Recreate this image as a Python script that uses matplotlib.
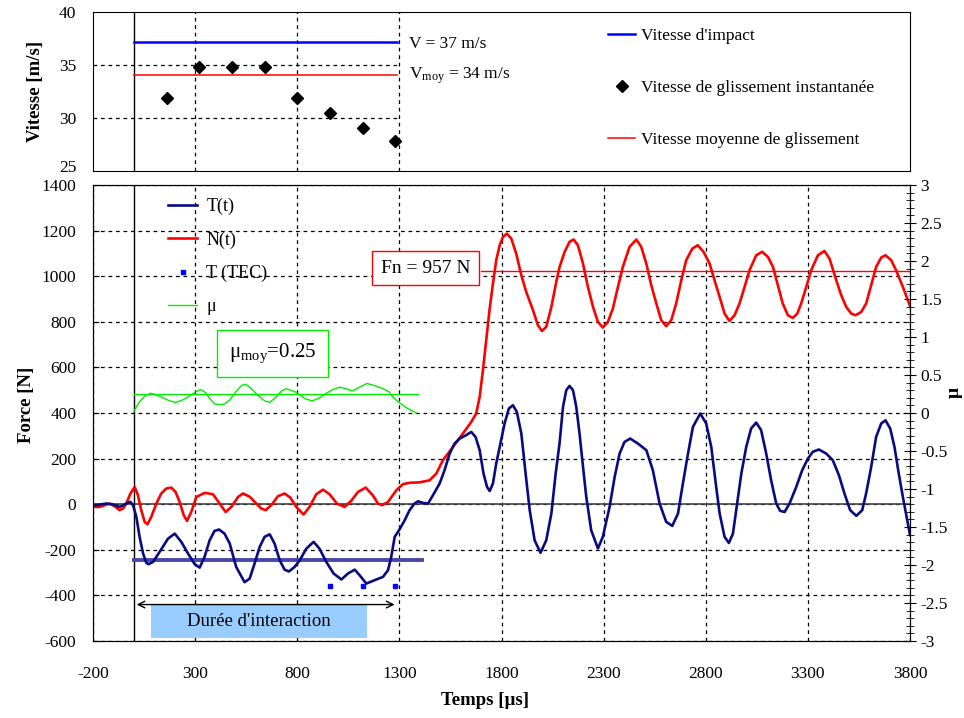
import matplotlib
matplotlib.use("Agg")
import matplotlib.pyplot as plt
from matplotlib.patches import Rectangle
from matplotlib.ticker import MultipleLocator, FuncFormatter
from matplotlib.transforms import ScaledTranslation

plt.rcParams["font.family"] = ["Liberation Serif", "DejaVu Serif"]
plt.rcParams["mathtext.fontset"] = "custom"
plt.rcParams["mathtext.rm"] = "Liberation Serif"
plt.rcParams["mathtext.it"] = "Liberation Serif:italic"
plt.rcParams["axes.unicode_minus"] = False

# top panel: sliding speed
slide_t = [160, 320, 480, 640, 800, 960, 1120, 1280]
slide_v = [31.9, 34.8, 34.8, 34.8, 31.9, 30.5, 29.1, 27.8]
v_impact = 37.15
v_moy = 34.1

# bottom panel: tangential force T(t) [us, N]
T_t = [-200, -184, -135, -102, -70, -37, -17, -4, 12, 28, 45, 61, 72, 94, 126, 167,
       200, 232, 265, 298, 322, 346, 371, 395, 417, 444, 469, 501, 542, 567, 591, 616,
       640, 665, 689, 714, 738, 759, 787, 812, 844, 880, 909, 942, 978, 1016, 1048, 1081,
       1105, 1138, 1179, 1219, 1244, 1260, 1277, 1301, 1326, 1350, 1374, 1391, 1415, 1440,
       1464, 1497, 1521, 1546, 1570, 1595, 1627, 1652, 1673, 1693, 1712, 1729, 1742, 1758,
       1774, 1791, 1815, 1836, 1856, 1875, 1897, 1918, 1938, 1962, 1991, 2019, 2044, 2065,
       2084, 2101, 2117, 2133, 2150, 2166, 2182, 2199, 2215, 2239, 2272, 2296, 2329, 2354,
       2378, 2402, 2430, 2468, 2509, 2541, 2574, 2606, 2636, 2664, 2688, 2713, 2737, 2773,
       2802, 2827, 2851, 2868, 2892, 2913, 2933, 2949, 2974, 2998, 3022, 3047, 3071, 3096,
       3120, 3145, 3164, 3186, 3210, 3243, 3272, 3300, 3324, 3354, 3390, 3422, 3452, 3479,
       3507, 3537, 3566, 3585, 3610, 3634, 3659, 3680, 3703, 3724, 3745, 3765, 3800]
T_f = [-4, -4, 3, -1, -12, 3, 10, -4, -55, -143, -216, -257, -263, -253, -209, -151,
       -129, -165, -216, -263, -278, -231, -158, -117, -111, -129, -172, -275, -342, -326, -260, -187,
       -143, -132, -173, -246, -287, -295, -275, -246, -195, -165, -195, -253, -304, -330, -304, -287,
       -311, -348, -333, -319, -290, -231, -143, -110, -70, -26, 3, 13, 6, 3,
       39, 91, 149, 222, 266, 288, 303, 317, 295, 237, 134, 76, 58, 91,
       178, 251, 354, 420, 434, 405, 310, 134, -26, -158, -213, -158, -41, 134,
       266, 427, 500, 519, 500, 427, 310, 164, 32, -114, -194, -143, -12, 120,
       222, 273, 288, 266, 237, 149, 3, -77, -95, -41, 91, 222, 339, 398,
       354, 251, 76, -41, -143, -170, -129, -26, 134, 251, 332, 358, 325, 222,
       105, 3, -29, -34, 3, 76, 149, 200, 230, 240, 222, 193, 127, 47,
       -26, -51, -26, 47, 164, 295, 354, 368, 332, 251, 134, 32, -135]

# normal force N(t) [us, N]
N_t = [-200, -192, -167, -143, -118, -94, -70, -53, -37, -17, 4, 20, 36, 53, 66, 85,
       110, 134, 159, 183, 204, 224, 244, 260, 281, 306, 347, 387, 420, 449, 477, 510,
       534, 567, 599, 624, 645, 673, 705, 738, 766, 795, 831, 860, 893, 926, 958, 994,
       1032, 1064, 1097, 1135, 1170, 1195, 1216, 1244, 1285, 1317, 1350, 1399, 1448, 1481,
       1513, 1562, 1611, 1652, 1676, 1693, 1709, 1725, 1742, 1758, 1774, 1791, 1807, 1826,
       1848, 1872, 1897, 1921, 1954, 1978, 1998, 2019, 2044, 2068, 2084, 2109, 2133, 2153,
       2174, 2199, 2223, 2248, 2272, 2296, 2321, 2345, 2370, 2394, 2427, 2460, 2484, 2509,
       2533, 2558, 2582, 2606, 2631, 2655, 2680, 2704, 2734, 2761, 2789, 2819, 2843, 2868,
       2892, 2916, 2941, 2965, 2990, 3014, 3047, 3076, 3104, 3129, 3153, 3177, 3202, 3226,
       3248, 3267, 3292, 3316, 3349, 3381, 3406, 3439, 3463, 3488, 3512, 3533, 3561, 3585,
       3610, 3634, 3659, 3680, 3708, 3732, 3765, 3800]
N_f = [-7, -12, -12, -4, 3, -9, -26, -19, 3, 47, 76, 39, -26, -78, -88, -56,
       3, 47, 69, 73, 54, 10, -48, -73, -34, 32, 50, 44, 3, -34, -12, 32,
       47, 33, 3, -19, -26, -4, 35, 47, 29, -12, -45, -12, 44, 64, 44, 3,
       -12, 15, 54, 73, 39, 3, -4, 10, 61, 88, 94, 96, 105, 135,
       193, 251, 310, 361, 398, 471, 588, 719, 858, 968, 1070, 1136, 1172, 1187,
       1165, 1099, 1004, 931, 851, 785, 760, 778, 865, 975, 1040, 1107, 1151, 1161,
       1136, 1055, 953, 865, 800, 775, 800, 858, 953, 1041, 1129, 1161, 1129, 1055,
       961, 880, 807, 781, 807, 880, 982, 1070, 1121, 1136, 1107, 1055, 982, 909,
       836, 804, 829, 880, 953, 1026, 1092, 1107, 1085, 1041, 961, 880, 829, 817,
       836, 880, 953, 1026, 1092, 1111, 1077, 982, 917, 865, 836, 829, 843, 880,
       961, 1041, 1082, 1092, 1070, 1026, 953, 870]

# friction coefficient mu(t)
mu_t = [0, 12, 28, 53, 81, 110, 143, 175, 205, 237, 265, 298, 327, 351, 371, 396,
        420, 444, 469, 502, 526, 547, 575, 608, 640, 665, 697, 722, 746, 779, 803, 836,
        874, 910, 942, 975, 1007, 1040, 1069, 1105, 1141, 1179, 1220, 1249, 1268, 1293,
        1334, 1383]
mu_v = [0.02, 0.08, 0.15, 0.22, 0.26, 0.24, 0.20, 0.16, 0.14, 0.17, 0.21, 0.27, 0.31, 0.27,
        0.19, 0.12, 0.11, 0.12, 0.17, 0.29, 0.36, 0.38, 0.32, 0.23, 0.16, 0.14, 0.21, 0.29,
        0.32, 0.29, 0.26, 0.19, 0.16, 0.20, 0.26, 0.31, 0.34, 0.32, 0.29, 0.34, 0.39, 0.36,
        0.32, 0.28, 0.21, 0.15, 0.07, 0.0]
mu_moy = 0.245

# T from TEC
tec_t = [960, 1120, 1280]
tec_f = [-360, -360, -360]

T_moy = -245
Fn_line = 1025

NAVY = "#0a0a80"
GREEN = "#00ee00"

fig = plt.figure(figsize=(9.64, 7.18), dpi=100)
ax_top = fig.add_axes([0.0965, 0.7618, 0.8475, 0.2214])
ax = fig.add_axes([0.0965, 0.1072, 0.8475, 0.6351])
ax2 = ax.twinx()

# ---- top panel
ax_top.set_xlim(-200, 3800)
ax_top.set_ylim(25, 40)
ax_top.set_yticks([25, 30, 35, 40])
ax_top.set_xticks([])
ax_top.tick_params(axis="y", labelsize=12.5, length=0, pad=12)
ax_top.hlines([30, 35], -200, 1300, colors="black", linestyles=(0, (3, 3)), lw=0.9, zorder=1)
ax_top.vlines([300, 800, 1300], 25, 40, colors="black", linestyles=(0, (3, 3)), lw=0.9, zorder=1)
ax_top.axvline(0, color="black", lw=1, zorder=2)
h1, = ax_top.plot([0, 1290], [v_impact, v_impact], color="#0000ff", lw=1.8, label="Vitesse d'impact")
h2, = ax_top.plot(slide_t, slide_v, ls="none", marker="D", ms=5.8, color="black",
                  label="Vitesse de glissement instantanée")
h3, = ax_top.plot([0, 1290], [v_moy, v_moy], color="#ff0000", lw=1.1, label="Vitesse moyenne de glissement")
ax_top.text(1345, 37.0, "V = 37 m/s", fontsize=12.5, va="center")
ax_top.text(1345, 33.96, "V$_{\\mathrm{moy}}$ = 34 m/s", fontsize=12.5, va="center")
ax_top.legend(handles=[h1, h2, h3], loc="upper left", bbox_to_anchor=(0.615, 0.975), frameon=False,
              fontsize=12.5, handlelength=1.6, handletextpad=0.3, labelspacing=2.05, numpoints=1,
              borderaxespad=0.3)
fig.canvas.draw()
lab25 = ax_top.get_yticklabels()[0]
lab25.set_transform(lab25.get_transform() + ScaledTranslation(0, 5 / 100, fig.dpi_scale_trans))
fig.text(0.037, 0.873, "Vitesse [m/s]", rotation=90, fontsize=13.5, fontweight="bold",
         ha="center", va="center")

# ---- bottom panel
ax.set_xlim(-200, 3800)
ax.set_ylim(-600, 1400)
ax.set_xticks(range(-200, 3801, 500))
ax.set_yticks(range(-600, 1401, 200))
ax.tick_params(axis="x", labelsize=12.5, length=0, pad=18)
ax.tick_params(axis="y", labelsize=12.5, length=4, direction="in", pad=12)
ax.grid(True, color="black", ls=(0, (3, 3)), lw=0.9)
ax.set_axisbelow(True)
ax.axhline(0, color="#444444", lw=1.2, zorder=2)
ax.axvline(0, color="black", lw=1, zorder=2)

ax2.set_ylim(-3, 3)
ax2.yaxis.set_major_locator(MultipleLocator(0.5))
ax2.yaxis.set_minor_locator(MultipleLocator(0.1))
ax2.yaxis.set_major_formatter(FuncFormatter(lambda v, p: f"{v:g}"))
ax2.tick_params(axis="y", which="major", direction="inout", length=9, labelsize=12.5, pad=3)
ax2.tick_params(axis="y", which="minor", direction="inout", length=6)

hN, = ax.plot(N_t, N_f, color="#ff0000", lw=1.9, zorder=4, label="N(t)")
hT, = ax.plot(T_t, T_f, color=NAVY, lw=1.9, zorder=5, label="T(t)")
ax.plot([0, 1410], [T_moy, T_moy], color="#4848a8", lw=2.8, zorder=3)
ax.plot([1700, 3800], [Fn_line, Fn_line], color="#ff0000", lw=1.0, zorder=3)
hTEC, = ax.plot(tec_t, tec_f, ls="none", marker="s", ms=3.2, color="#0000ff", zorder=6, label="T (TEC)")
hmu, = ax2.plot(mu_t, mu_v, color=GREEN, lw=1.0, label="μ")
ax2.plot([0, 1390], [mu_moy, mu_moy], color=GREEN, lw=1.0)

ax.legend(handles=[hT, hN, hTEC, hmu], loc="upper left", bbox_to_anchor=(0.079, 0.996), frameon=False,
          fontsize=13, handlelength=1.6, handletextpad=0.5, labelspacing=0.9, numpoints=1,
          borderaxespad=0.2)

ax.text(1430, 1035, "Fn = 957 N", fontsize=14, ha="center", va="center", zorder=7,
        bbox=dict(boxstyle="square,pad=0.45", fc="white", ec="#ff0000", lw=1))
ax.text(679, 661, "μ$_{\\mathrm{moy}}$=0.25", fontsize=15, ha="center", va="center", zorder=7,
        bbox=dict(boxstyle="square,pad=0.55", fc="white", ec=GREEN, lw=1))

ax.add_patch(Rectangle((82, -588), 1058, 145, facecolor="#99ccff", edgecolor="none", zorder=3))
ax.text(611, -515, "Durée d'interaction", fontsize=13.5, ha="center", va="center", zorder=4)
ax.annotate("", xy=(0, -440), xytext=(1290, -440), zorder=4,
            arrowprops=dict(arrowstyle="<->", color="black", lw=1, mutation_scale=12))

fig.text(0.027, 0.436, "Force [N]", rotation=90, fontsize=13.5, fontweight="bold", ha="center", va="center")
fig.text(0.99, 0.454, "μ", rotation=90, fontsize=14, fontweight="bold", ha="center", va="center")
fig.text(0.503, 0.025, "Temps [µs]", fontsize=13.5, fontweight="bold", ha="center", va="center")

fig.savefig("out.png", dpi=100)
